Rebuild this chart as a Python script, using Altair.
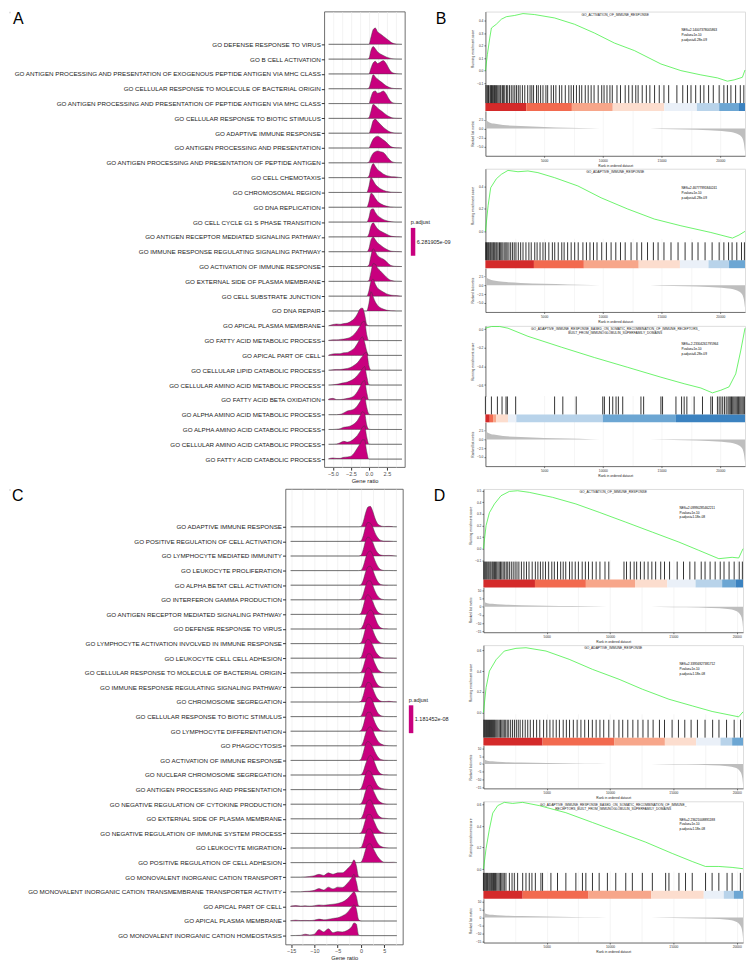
import altair as alt
import pandas as pd

FONT = "Liberation Sans"
MAG = "#C8007E"
GREEN = "#2EEE2E"
RANK_GRAY = "#BEBEBE"
GRID = "#EBEBEB"
STRIP_COLORS = ["#D42A2A", "#F26A4F", "#F7A68A", "#FCDDCE", "#EAF0F8", "#B8D3EA", "#6CA6D3", "#3B82C0"]

# ---------------- Panel A (ridge plot) ----------------
A_terms = [
    "GO DEFENSE RESPONSE TO VIRUS",
    "GO B CELL ACTIVATION",
    "GO ANTIGEN PROCESSING AND PRESENTATION OF EXOGENOUS PEPTIDE ANTIGEN VIA MHC CLASS",
    "GO CELLULAR RESPONSE TO MOLECULE OF BACTERIAL ORIGIN",
    "GO ANTIGEN PROCESSING AND PRESENTATION OF PEPTIDE ANTIGEN VIA MHC CLASS",
    "GO CELLULAR RESPONSE TO BIOTIC STIMULUS",
    "GO ADAPTIVE IMMUNE RESPONSE",
    "GO ANTIGEN PROCESSING AND PRESENTATION",
    "GO ANTIGEN PROCESSING AND PRESENTATION OF PEPTIDE ANTIGEN",
    "GO CELL CHEMOTAXIS",
    "GO CHROMOSOMAL REGION",
    "GO DNA REPLICATION",
    "GO CELL CYCLE G1 S PHASE TRANSITION",
    "GO ANTIGEN RECEPTOR MEDIATED SIGNALING PATHWAY",
    "GO IMMUNE RESPONSE REGULATING SIGNALING PATHWAY",
    "GO ACTIVATION OF IMMUNE RESPONSE",
    "GO EXTERNAL SIDE OF PLASMA MEMBRANE",
    "GO CELL SUBSTRATE JUNCTION",
    "GO DNA REPAIR",
    "GO APICAL PLASMA MEMBRANE",
    "GO FATTY ACID METABOLIC PROCESS",
    "GO APICAL PART OF CELL",
    "GO CELLULAR LIPID CATABOLIC PROCESS",
    "GO CELLULAR AMINO ACID METABOLIC PROCESS",
    "GO FATTY ACID BETA OXIDATION",
    "GO ALPHA AMINO ACID METABOLIC PROCESS",
    "GO ALPHA AMINO ACID CATABOLIC PROCESS",
    "GO CELLULAR AMINO ACID CATABOLIC PROCESS",
    "GO FATTY ACID CATABOLIC PROCESS",
]
A_padj = 6.281905e-09
A_pos_x = [-0.3, 0.0, 0.3, 0.6, 0.9, 1.2, 1.6, 2.0, 2.4, 2.8, 3.2, 3.8, 4.5]
A_pos_h = [
    [0, 0.0, 0.5, 1.0, 1.1, 0.85, 0.7, 0.55, 0.4, 0.25, 0.1, 0.02, 0],
    [0, 0.05, 0.6, 0.85, 0.7, 0.5, 0.35, 0.25, 0.15, 0.08, 0.03, 0.01, 0],
    [0, 0.0, 0.4, 0.75, 0.85, 0.7, 0.8, 0.9, 0.7, 0.35, 0.1, 0.02, 0],
    [0, 0.05, 0.5, 0.95, 0.8, 0.65, 0.5, 0.35, 0.2, 0.1, 0.04, 0.01, 0],
    [0, 0.0, 0.45, 0.8, 0.85, 0.7, 0.75, 0.85, 0.65, 0.3, 0.08, 0.01, 0],
    [0, 0.05, 0.5, 0.95, 0.85, 0.7, 0.55, 0.4, 0.25, 0.12, 0.05, 0.01, 0],
    [0, 0.0, 0.35, 0.85, 0.95, 0.8, 0.6, 0.4, 0.25, 0.12, 0.05, 0.01, 0],
    [0, 0.0, 0.3, 0.6, 0.75, 0.8, 0.7, 0.55, 0.4, 0.2, 0.06, 0.01, 0],
    [0, 0.05, 0.4, 0.65, 0.75, 0.8, 0.75, 0.7, 0.5, 0.25, 0.08, 0.01, 0],
    [0, 0.1, 0.65, 0.95, 0.75, 0.55, 0.4, 0.25, 0.15, 0.1, 0.06, 0.05, 0],
    [0, 0.4, 1.0, 0.8, 0.55, 0.4, 0.25, 0.15, 0.08, 0.04, 0.02, 0.01, 0],
    [0, 0.35, 0.95, 0.85, 0.6, 0.4, 0.25, 0.15, 0.08, 0.04, 0.02, 0.0, 0],
    [0, 0.3, 0.85, 0.9, 0.65, 0.45, 0.3, 0.18, 0.1, 0.05, 0.02, 0, 0],
    [0, 0.2, 0.75, 0.95, 0.75, 0.55, 0.4, 0.3, 0.2, 0.1, 0.04, 0.01, 0],
    [0, 0.2, 0.8, 1.0, 0.8, 0.6, 0.45, 0.3, 0.18, 0.08, 0.03, 0.01, 0],
    [0, 0.1, 0.75, 1.2, 1.0, 0.75, 0.6, 0.5, 0.35, 0.15, 0.05, 0.01, 0],
    [0, 0.05, 0.65, 1.2, 1.15, 0.9, 0.7, 0.5, 0.3, 0.13, 0.05, 0.01, 0],
    [0, 0.35, 1.0, 1.15, 0.8, 0.55, 0.4, 0.28, 0.17, 0.1, 0.06, 0.04, 0],
    [0, 0.5, 1.3, 0.95, 0.6, 0.38, 0.22, 0.13, 0.06, 0.03, 0.01, 0, 0],
]
A_neg_x = [-5.6, -5.0, -4.5, -4.0, -3.5, -3.0, -2.5, -2.0, -1.6, -1.2, -0.9, -0.6, -0.3, 0.0, 0.3]
A_neg_h = [
    [0, 0.08, 0.12, 0.1, 0.15, 0.18, 0.3, 0.5, 0.8, 1.15, 1.2, 0.8, 0.1, 0, 0],
    [0.02, 0.05, 0.05, 0.08, 0.1, 0.15, 0.25, 0.45, 0.7, 1.0, 1.25, 1.3, 0.4, 0, 0],
    [0.02, 0.1, 0.12, 0.12, 0.18, 0.2, 0.32, 0.5, 0.8, 1.1, 1.25, 0.9, 0.3, 0, 0],
    [0, 0.03, 0.05, 0.05, 0.08, 0.12, 0.2, 0.35, 0.5, 0.75, 0.95, 1.15, 1.2, 0.3, 0],
    [0, 0.02, 0.05, 0.1, 0.15, 0.2, 0.3, 0.45, 0.65, 0.9, 1.1, 1.25, 0.6, 0.02, 0],
    [0.05, 0.1, 0.02, 0.02, 0.05, 0.1, 0.15, 0.3, 0.55, 0.9, 1.2, 1.3, 0.5, 0, 0],
    [0, 0, 0, 0.02, 0.12, 0.25, 0.3, 0.4, 0.6, 0.9, 1.15, 1.2, 0.5, 0.05, 0],
    [0, 0, 0.02, 0.05, 0.15, 0.18, 0.25, 0.4, 0.6, 0.95, 1.2, 1.1, 0.3, 0.02, 0],
    [0, 0, 0.02, 0.1, 0.2, 0.15, 0.22, 0.4, 0.6, 0.9, 1.15, 1.25, 0.5, 0.02, 0],
    [0.02, 0.08, 0.05, 0.05, 0.12, 0.15, 0.2, 0.45, 0.75, 1.05, 1.3, 1.3, 0.5, 0, 0],
]
A_tail = [-5.6, 4.6]
A_xdomain = [-6.2, 5.0]
A_xvals = [-5.0, -3.75, -2.5, -1.25, 0.0, 1.25, 2.5, 3.75]

# ---------------- Panel C (ridge plot) ----------------
C_terms = [
    "GO ADAPTIVE IMMUNE RESPONSE",
    "GO POSITIVE REGULATION OF CELL ACTIVATION",
    "GO LYMPHOCYTE MEDIATED IMMUNITY",
    "GO LEUKOCYTE PROLIFERATION",
    "GO ALPHA BETAT CELL ACTIVATION",
    "GO INTERFERON GAMMA PRODUCTION",
    "GO ANTIGEN RECEPTOR MEDIATED SIGNALING PATHWAY",
    "GO DEFENSE RESPONSE TO VIRUS",
    "GO LYMPHOCYTE ACTIVATION INVOLVED IN IMMUNE RESPONSE",
    "GO LEUKOCYTE CELL CELL ADHESION",
    "GO CELLULAR RESPONSE TO MOLECULE OF BACTERIAL ORIGIN",
    "GO IMMUNE RESPONSE REGULATING SIGNALING PATHWAY",
    "GO CHROMOSOME SEGREGATION",
    "GO CELLULAR RESPONSE TO BIOTIC STIMULUS",
    "GO LYMPHOCYTE DIFFERENTIATION",
    "GO PHAGOCYTOSIS",
    "GO ACTIVATION OF IMMUNE RESPONSE",
    "GO NUCLEAR CHROMOSOME SEGREGATION",
    "GO ANTIGEN PROCESSING AND PRESENTATION",
    "GO NEGATIVE REGULATION OF CYTOKINE PRODUCTION",
    "GO EXTERNAL SIDE OF PLASMA MEMBRANE",
    "GO NEGATIVE REGULATION OF IMMUNE SYSTEM PROCESS",
    "GO LEUKOCYTE MIGRATION",
    "GO POSITIVE REGULATION OF CELL ADHESION",
    "GO MONOVALENT INORGANIC CATION TRANSPORT",
    "GO MONOVALENT INORGANIC CATION TRANSMEMBRANE TRANSPORTER ACTIVITY",
    "GO APICAL PART OF CELL",
    "GO APICAL PLASMA MEMBRANE",
    "GO MONOVALENT INORGANIC CATION HOMEOSTASIS",
]
C_padj = 1.181452e-08
C_pos_x = [-0.5, 0.0, 0.5, 1.0, 1.5, 2.0, 2.5, 3.0, 3.5, 4.0, 4.5, 5.0, 6.0, 7.0]
C_pos_h = [
    [0, 0.02, 0.35, 0.95, 1.35, 1.4, 1.1, 0.6, 0.25, 0.1, 0.04, 0.02, 0.03, 0.01],
    [0, 0.03, 0.4, 1.0, 1.3, 1.25, 1.0, 0.6, 0.3, 0.12, 0.05, 0.02, 0.02, 0.0],
    [0, 0.05, 0.45, 1.05, 1.3, 1.2, 0.95, 0.55, 0.25, 0.1, 0.05, 0.03, 0.04, 0.02],
    [0, 0.02, 0.3, 0.85, 1.25, 1.35, 1.1, 0.7, 0.35, 0.12, 0.04, 0.01, 0.01, 0],
    [0, 0.03, 0.35, 0.9, 1.25, 1.3, 1.05, 0.65, 0.3, 0.1, 0.03, 0.01, 0, 0],
    [0, 0.05, 0.4, 0.95, 1.3, 1.3, 1.0, 0.6, 0.3, 0.12, 0.04, 0.01, 0, 0],
    [0, 0.08, 0.55, 1.15, 1.35, 1.2, 0.9, 0.5, 0.22, 0.08, 0.02, 0, 0, 0],
    [0, 0.03, 0.3, 0.8, 1.15, 1.3, 1.2, 0.8, 0.4, 0.15, 0.05, 0.01, 0, 0],
    [0, 0.05, 0.45, 1.05, 1.35, 1.25, 0.95, 0.55, 0.25, 0.1, 0.03, 0.01, 0, 0],
    [0, 0.06, 0.5, 1.1, 1.3, 1.2, 0.9, 0.55, 0.28, 0.12, 0.05, 0.02, 0.02, 0.01],
    [0, 0.04, 0.4, 0.95, 1.3, 1.3, 1.05, 0.65, 0.32, 0.12, 0.04, 0.01, 0, 0],
    [0, 0.06, 0.5, 1.1, 1.35, 1.25, 0.9, 0.5, 0.22, 0.08, 0.02, 0, 0, 0],
    [0, 0.05, 0.45, 1.05, 1.35, 1.3, 0.95, 0.55, 0.25, 0.1, 0.04, 0.03, 0.05, 0.01],
    [0, 0.04, 0.4, 0.95, 1.3, 1.3, 1.05, 0.65, 0.32, 0.12, 0.04, 0.01, 0, 0],
    [0, 0.04, 0.4, 1.0, 1.3, 1.3, 1.0, 0.6, 0.28, 0.1, 0.03, 0.01, 0, 0],
    [0, 0.02, 0.3, 0.85, 1.2, 1.3, 1.1, 0.7, 0.4, 0.2, 0.1, 0.04, 0.01, 0],
    [0, 0.08, 0.55, 1.1, 1.3, 1.2, 0.95, 0.6, 0.3, 0.12, 0.04, 0.01, 0, 0],
    [0, 0.02, 0.25, 0.75, 1.15, 1.35, 1.2, 0.8, 0.4, 0.15, 0.05, 0.01, 0, 0],
    [0, 0.07, 0.5, 1.05, 1.3, 1.25, 0.95, 0.6, 0.3, 0.15, 0.08, 0.05, 0.01, 0],
    [0, 0.03, 0.35, 0.9, 1.25, 1.3, 1.05, 0.7, 0.38, 0.18, 0.08, 0.03, 0, 0],
    [0, 0.03, 0.35, 0.9, 1.25, 1.3, 1.05, 0.7, 0.35, 0.15, 0.06, 0.04, 0.01, 0],
    [0, 0.04, 0.4, 0.95, 1.3, 1.3, 1.05, 0.7, 0.35, 0.15, 0.06, 0.02, 0, 0],
    [0, 0.03, 0.4, 0.95, 1.3, 1.3, 1.05, 0.7, 0.38, 0.18, 0.08, 0.03, 0, 0],
    [0, 0.03, 0.35, 0.9, 1.25, 1.3, 1.05, 0.75, 0.45, 0.25, 0.1, 0.03, 0.02, 0.03],
]
C_neg_x = [-15.1, -14, -13, -12, -11, -10, -9, -8, -7, -6, -5, -4, -3, -2, -1.5, -1, -0.5, 0]
C_neg_h = [
    [0, 0, 0, 0.02, 0.05, 0.1, 0.2, 0.12, 0.3, 0.2, 0.3, 0.3, 0.55, 0.9, 1.2, 0.8, 0.05, 0],
    [0, 0, 0, 0.03, 0.05, 0.1, 0.22, 0.12, 0.32, 0.2, 0.32, 0.3, 0.55, 0.95, 1.2, 0.7, 0.05, 0],
    [0.02, 0.06, 0.02, 0.04, 0.02, 0.05, 0.1, 0.08, 0.12, 0.15, 0.2, 0.3, 0.5, 0.85, 1.0, 0.7, 0.05, 0],
    [0.02, 0.06, 0.03, 0.04, 0.03, 0.06, 0.13, 0.08, 0.12, 0.18, 0.22, 0.35, 0.55, 0.95, 1.1, 0.85, 0.1, 0],
    [0, 0.01, 0.02, 0.1, 0.05, 0.1, 0.42, 0.25, 0.47, 0.2, 0.28, 0.25, 0.35, 0.6, 0.87, 0.8, 0.05, 0],
]
C_tail = [-15.1, 7.7]
C_xdomain = [-16.2, 9.0]
C_xvals = [-15, -12.5, -10, -7.5, -5, -2.5, 0, 2.5, 5, 7.5]

# ---------------- Panels B and D (GSEA plots) ----------------
B_N = 22100
D_N = 20500

B_rank_x = [0, 100, 300, 700, 1500, 3000, 5000, 7000, 9000, 10500, 13000, 15000, 17000, 19000, 20500, 21300, 21800, 22000, 22100]
B_rank_y = [3.0, 2.3, 1.8, 1.4, 1.0, 0.7, 0.45, 0.25, 0.1, 0.0, 0.0, -0.1, -0.25, -0.45, -0.8, -1.3, -2.3, -4.0, -6.5]
D_rank_x = [0, 100, 300, 700, 1500, 3000, 5000, 7000, 9000, 10500, 12500, 14000, 16000, 18000, 19300, 19900, 20300, 20450, 20500]
D_rank_y = [3.5, 2.6, 2.1, 1.7, 1.3, 0.9, 0.6, 0.35, 0.15, 0.0, 0.0, -0.15, -0.4, -0.8, -1.4, -2.4, -5.0, -9.0, -13.0]

B1_title = ["GO_ACTIVATION_OF_IMMUNE_RESPONSE"]
B1_nes = ["NES=2.14007378005863", "P.value=1e-10", "p.adjust=6.28e-09"]
B1_es_rank = [0, 170, 370, 510, 930, 1360, 1780, 2490, 3200, 4190, 5890, 7580, 9280, 10980, 12680, 14940, 16640, 18340, 19750, 20600, 21170, 21880, 22100]
B1_es = [0.0, 0.13, 0.26, 0.34, 0.37, 0.41, 0.43, 0.44, 0.455, 0.447, 0.42, 0.37, 0.30, 0.22, 0.16, 0.053, 0.0, -0.034, -0.058, -0.084, -0.074, -0.053, 0.005]
B1_hits = [30, 120, 200, 260, 380, 450, 520, 600, 700, 780, 850, 950, 1050, 1150, 1250, 1320, 1450, 1550, 1650, 1800,
           1900, 2050, 2200, 2350, 2500, 2650, 2800, 2950, 3150, 3350, 3600, 3800, 3950, 4100, 4350, 4500, 4700, 4900,
           5150, 5300, 5600, 5800, 6000, 6300, 6500, 6800, 7100, 7300, 7500, 7750, 8000, 8200, 8500, 8750, 9000, 9250,
           9600, 9900, 10100, 10350, 10600, 10800, 11200, 11500, 11900, 12200, 12500, 12800, 13000, 13350, 13700,
           14000, 14400, 14800, 15200, 15600, 16300, 16800, 17200, 17500, 17900, 18300, 18600, 19000, 19400, 19900,
           20300, 20600, 20900, 21300, 21700, 22000]
B1_seg = [0, 3480, 7360, 10840, 15230, 18000, 19900, 21590, 22100]
B1_seg_col = [0, 1, 2, 3, 4, 5, 6, 7]

B2_title = ["GO_ADAPTIVE_IMMUNE_RESPONSE"]
B2_nes = ["NES=2.46777991840241", "P.value=1e-10", "p.adjust=6.28e-09"]
B2_es_rank = [0, 230, 450, 930, 1360, 1920, 2770, 3620, 4470, 5890, 7870, 9850, 12110, 14380, 16640, 19190, 21030, 21590, 22100]
B2_es = [0.0, 0.23, 0.39, 0.47, 0.51, 0.545, 0.533, 0.54, 0.525, 0.48, 0.406, 0.30, 0.20, 0.11, 0.05, -0.01, -0.06, -0.033, 0.0]
B2_hits = [20, 90, 160, 240, 310, 400, 470, 560, 650, 720, 800, 900, 980, 1080, 1200, 1300, 1400, 1500, 1650, 1750,
           1850, 2000, 2150, 2300, 2450, 2600, 2800, 3000, 3200, 3450, 3700, 3900, 4200, 4400, 4650, 4900, 5100, 5400,
           5700, 5900, 6200, 6500, 6700, 7000, 7300, 7600, 7900, 8300, 8600, 8900, 9200, 9500, 9900, 10300, 10700,
           11100, 11500, 11900, 12400, 12900, 13300, 13800, 14300, 14700, 15200, 15800, 16400, 17000, 17600, 18100,
           18700, 19300, 19900, 20300, 20700, 21000, 21400, 21800, 22050]
B2_seg = [0, 4130, 8380, 13050, 16560, 18990, 20740, 22100]
B2_seg_col = [0, 1, 2, 3, 4, 5, 6]

B3_title = ["GO_ADAPTIVE_IMMUNE_RESPONSE_BASED_ON_SOMATIC_RECOMBINATION_OF_IMMUNE_RECEPTORS_",
            "BUILT_FROM_IMMUNOGLOBULIN_SUPERFAMILY_DOMAINS"]
B3_nes = ["NES=-2.23304261795964", "P.value=1e-10", "p.adjust=6.28e-09"]
B3_es_rank = [0, 510, 1220, 1920, 3620, 6450, 9280, 12110, 14940, 16920, 18340, 19330, 20040, 20740, 21310, 21730, 22100]
B3_es = [0.01, 0.028, 0.028, 0.01, -0.077, -0.193, -0.305, -0.41, -0.516, -0.586, -0.632, -0.684, -0.656, -0.62, -0.48, -0.235, 0.01]
B3_hits = [0, 510, 1020, 1415, 1755, 1870, 2575, 5890, 6590, 7730, 9990, 10130, 10560, 10840, 11120, 11320, 11690,
           13240, 13470, 14940, 15080, 16220, 16700, 16920, 17150, 17770, 18480, 19190, 19330, 19750, 19900, 20050,
           20200, 20350, 20500, 20650, 20750, 20850, 20950, 21050, 21150, 21250, 21350, 21450, 21550, 21650, 21750,
           21850, 21950, 22050]
B3_seg = [0, 370, 650, 930, 1920, 2630, 9990, 16220, 22100]
B3_seg_col = [0, 1, 2, 3, 4, 5, 6, 7]

D1_title = ["GO_ACTIVATION_OF_IMMUNE_RESPONSE"]
D1_nes = ["NES=2.09990285462211", "P.value=1e-10", "p.adjust=1.18e-08"]
D1_es_rank = [0, 210, 470, 870, 1390, 2050, 2700, 3620, 5460, 7300, 9140, 11240, 13340, 15440, 17010, 18590, 19640, 20160, 20500]
D1_es = [0.0, 0.2, 0.31, 0.386, 0.457, 0.494, 0.5, 0.486, 0.443, 0.386, 0.314, 0.229, 0.143, 0.057, -0.014, -0.086, -0.074, -0.08, 0.0]
D1_hits = [20, 100, 180, 260, 350, 430, 520, 600, 700, 780, 870, 960, 1050, 1150, 1250, 1350, 1450, 1560, 1680, 1800,
           1920, 2050, 2200, 2350, 2500, 2650, 2800, 3000, 3200, 3400, 3600, 3850, 4100, 4300, 4500, 4700, 4900, 5150,
           5400, 5600, 5850, 6100, 6300, 6500, 6800, 7000, 7250, 7500, 7800, 8050, 8300, 8600, 8900, 9200, 9600, 9900,
           11100, 11300, 11600, 11900, 12100, 12400, 12700, 13000, 13300, 13600, 14000, 14300, 14700, 15300, 15800,
           16300, 16700, 17200, 17500, 17900, 18300, 18700, 19000, 19400, 19800, 20200, 20450]
D1_seg = [0, 4070, 8090, 11970, 14520, 16750, 18850, 19900, 20500]
D1_seg_col = [0, 1, 2, 3, 4, 5, 6, 7]

D2_title = ["GO_ADAPTIVE_IMMUNE_RESPONSE"]
D2_nes = ["NES=2.33956927381712", "P.value=1e-10", "p.adjust=1.18e-08"]
D2_es_rank = [0, 210, 470, 1000, 1650, 2570, 3360, 4940, 6770, 8610, 10710, 12550, 14650, 16490, 18060, 20160, 20500]
D2_es = [0.0, 0.24, 0.40, 0.51, 0.594, 0.62, 0.626, 0.594, 0.514, 0.417, 0.321, 0.225, 0.128, 0.064, 0.01, -0.042, 0.006]
D2_hits = [20, 90, 170, 240, 320, 400, 480, 560, 640, 720, 800, 880, 970, 1060, 1150, 1250, 1350, 1450, 1550, 1650,
           1760, 1880, 2000, 2150, 2300, 2450, 2600, 2750, 2900, 3100, 3300, 3500, 3700, 3950, 4200, 4450, 4750, 5000,
           5250, 5500, 5750, 6000, 6300, 6550, 6800, 7100, 7400, 7700, 8000, 8300, 8600, 8900, 9200, 9500, 9900, 10300,
           10700, 11000, 11400, 11800, 12200, 12600, 13000, 13400, 13900, 14300, 14900, 15400, 15900, 16400, 16900,
           17500, 18100, 18600, 19200, 19800, 20300]
D2_seg = [0, 4670, 10320, 14330, 16800, 18720, 19640, 20500]
D2_seg_col = [0, 1, 2, 3, 4, 5, 6]

D3_title = ["GO_ADAPTIVE_IMMUNE_RESPONSE_BASED_ON_SOMATIC_RECOMBINATION_OF_IMMUNE_",
            "RECEPTORS_BUILT_FROM_IMMUNOGLOBULIN_SUPERFAMILY_DOMAINS"]
D3_nes = ["NES=2.23621008891188", "P.value=1e-10", "p.adjust=1.18e-08"]
D3_es_rank = [0, 210, 470, 735, 1130, 1650, 2310, 3100, 4410, 6510, 8610, 10710, 12810, 14910, 16490, 17530, 18590, 19640, 20500]
D3_es = [0.0, 0.19, 0.37, 0.52, 0.59, 0.62, 0.61, 0.62, 0.59, 0.524, 0.433, 0.342, 0.25, 0.145, 0.07, 0.024, 0.024, 0.015, 0.003]
D3_hits = [0, 60, 130, 200, 260, 330, 420, 500, 580, 650, 730, 800, 880, 950, 1050, 1150, 1250, 1350, 1450, 1550,
           1650, 1780, 2050, 2260, 2440, 2700, 3100, 3360, 3620, 3830, 4100, 4540, 4670, 5330, 5850, 6510, 7300, 7820,
           8090, 8610, 9140, 9790, 10450, 11240, 11760, 12550, 13340, 14390, 14650, 15440, 15960, 16490, 17540, 18060,
           18590, 19240, 19640, 20290]
D3_seg = [0, 3100, 8300, 13260, 17400, 18980, 19770, 20500]
D3_seg_col = [0, 1, 2, 3, 4, 5, 6]

PANEL_LETTERS = ["A", "B", "C", "D"]


# ---------------- builders ----------------
def letter_mark(ch, dx, dy):
    return alt.Chart(pd.DataFrame({"t": [ch]})).mark_text(
        fontSize=16, font=FONT, align="left", baseline="middle", color="black"
    ).encode(text="t:N", x=alt.value(dx), y=alt.value(dy))


def ridge_frame(terms, pos_x, pos_h, neg_x, neg_h, tail, padj):
    n = len(terms)
    shapes = [(pos_x, h) for h in pos_h] + [(neg_x, h) for h in neg_h]
    rows = []
    for i, (xs, hs) in enumerate(shapes):
        base = n - 1 - i
        pts = list(zip(xs, hs))
        if pts[0][0] > tail[0]:
            pts = [(tail[0], 0.0)] + pts
        if pts[-1][0] < tail[1]:
            pts = pts + [(tail[1], 0.0)]
        for x, h in pts:
            rows.append({"row": i, "x": x, "top": base + h, "base": base, "padj": padj})
    return pd.DataFrame(rows)


def ridge_chart(terms, df, xdomain, ydomain, xvals, major, xfmt, width, height, padj, extent,
                letter, right_letter, right_dx, letter_dy):
    n = len(terms)
    by_base = [terms[n - 1 - b] for b in range(n)]
    label_expr = "[" + ",".join("'" + t + "'" for t in by_base) + "][datum.value]"
    test = f"abs(datum.value % {major}) < 0.001"
    legend = alt.Legend(
        title="p.adjust", orient="none", legendX=width + 6, legendY=210,
        values=[padj], labelExpr="replace(format(datum.value, '.6e'), 'e-', 'e-0')",
        gradientLength=28, gradientThickness=4.5, titleFontSize=5.5, labelFontSize=5.5,
        titleFont=FONT, labelFont=FONT, titleFontWeight="normal", titlePadding=2,
        labelOffset=1.5, titleColor="#222", labelColor="#222", direction="vertical", padding=0,
    )
    ridges = alt.Chart(df).mark_area(
        stroke="#3A3A3A", strokeWidth=0.45, interpolate="monotone", fillOpacity=1
    ).encode(
        x=alt.X("x:Q", scale=alt.Scale(domain=xdomain, nice=False, zero=False),
                axis=alt.Axis(title="Gene ratio", values=xvals,
                              labelExpr=f"{test} ? format(datum.value, '{xfmt}') : ''",
                              tickOpacity={"condition": {"test": test, "value": 1}, "value": 0},
                              grid=True, gridColor=GRID, gridWidth=0.6, domain=False,
                              tickSize=3, tickColor="#333", labelFontSize=5.5, titleFontSize=5.8,
                              labelColor="#4D4D4D", titleColor="#222", labelPadding=1,
                              titlePadding=1, titleFontWeight="normal", labelFont=FONT, titleFont=FONT)),
        y=alt.Y("top:Q", scale=alt.Scale(domain=ydomain, nice=False, zero=False),
                axis=alt.Axis(title=None, values=list(range(n)), labelExpr=label_expr, grid=False,
                              domain=False, tickSize=3, tickColor="#333", labelFontSize=6.3,
                              labelColor="#222", labelPadding=1, minExtent=extent, maxExtent=extent,
                              labelLimit=400, labelFont=FONT)),
        y2="base:Q",
        detail="row:N",
        color=alt.Color("padj:Q", scale=alt.Scale(domain=[padj * 0.98, padj * 1.02], range=[MAG, MAG]),
                        legend=legend),
    )
    return alt.layer(
        ridges,
        letter_mark(letter, -extent, letter_dy),
        letter_mark(right_letter, right_dx, letter_dy),
    ).properties(
        width=width, height=height,
        view=alt.ViewBackground(stroke="#4A4A4A", strokeWidth=0.8),
    )


W = 261
AX = dict(labelFont=FONT, titleFont=FONT, labelFontSize=3.3, titleFontSize=3.3, domainColor="black",
          domainWidth=0.5, tickColor="black", tickWidth=0.5, tickSize=1.5, labelColor="#333",
          titleColor="#222", labelPadding=1, titleFontWeight="normal")


def gsea(title, N, es_rank, es_val, es_dom, es_ticks, nes, hits, seg, seg_col,
         rk_x, rk_y, rk_dom, rk_ticks, rk_fmt, h_score, h_rank):
    H = h_score + 26 + h_rank
    xs = alt.Scale(domain=[0, N], nice=False, zero=False)
    grid_vals = list(range(2500, N, 2500))
    test = "datum.value % 5000 == 0"
    xaxis = alt.Axis(title="Rank in ordered dataset", values=grid_vals,
                     labelExpr=f"{test} ? format(datum.value, 'd') : ''",
                     tickOpacity={"condition": {"test": test, "value": 1}, "value": 0},
                     grid=True, gridColor=GRID, gridWidth=0.5, titlePadding=1.5, **AX)

    def X(f):
        return alt.X(f"{f}:Q", scale=xs, axis=xaxis)

    top, bot = es_dom[1], es_dom[0]
    span = top - bot
    es_scale = alt.Scale(domain=es_dom, range=[h_score, 0], nice=False, zero=False)
    es_axis = alt.Axis(title="Running enrichment score", orient="left", values=es_ticks, format=".1f",
                       grid=False, minExtent=9, maxExtent=9, titlePadding=1.5, **AX)

    def YE(f):
        return alt.Y(f"{f}:Q", scale=es_scale, axis=es_axis)

    es_df = pd.DataFrame({"rank": es_rank, "val": es_val})
    txt_df = pd.DataFrame({"rank": [0.755 * N] * 3,
                           "val": [top - f * span for f in (0.257, 0.324, 0.392)],
                           "label": nes})
    ttl_df = pd.DataFrame({"rank": [0.5 * N] * len(title),
                           "val": [top - (0.045 + 0.058 * k) * span for k in range(len(title))],
                           "label": title})
    line = alt.Chart(es_df).mark_line(color=GREEN, strokeWidth=0.7).encode(x=X("rank"), y=YE("val"))
    txt = alt.Chart(txt_df).mark_text(align="left", baseline="middle", fontSize=3.2, font=FONT,
                                      color="black").encode(x=X("rank"), y=YE("val"), text="label:N")
    ttl = alt.Chart(ttl_df).mark_text(align="center", baseline="middle", fontSize=3.3, font=FONT,
                                      color="#222").encode(x=X("rank"), y=YE("val"), text="label:N")
    es_layer = alt.layer(line, txt, ttl)

    seg_df = pd.DataFrame({"start": seg[:-1], "end": seg[1:], "col": [STRIP_COLORS[i] for i in seg_col]})
    strip = alt.Chart(seg_df).mark_rect().encode(
        x=X("start"), x2="end:Q",
        y=alt.value(h_score + 18), y2=alt.value(h_score + 26), color=alt.Color("col:N", scale=None))
    rules = alt.Chart(pd.DataFrame({"rank": hits})).mark_rule(color="black", strokeWidth=1.0, opacity=0.8).encode(
        x=X("rank"), y=alt.value(h_score), y2=alt.value(h_score + 18))

    rk_scale = alt.Scale(domain=rk_dom, range=[H, h_score + 26], nice=False, zero=False)
    rk_axis = alt.Axis(title="Ranked list metric", orient="left", values=rk_ticks, format=rk_fmt, grid=False,
                       minExtent=9, maxExtent=9, titlePadding=1.5, **AX)
    rk = alt.Chart(pd.DataFrame({"rank": rk_x, "metric": rk_y})).mark_area(
        color=RANK_GRAY, interpolate="monotone").encode(
        x=X("rank"), y=alt.Y("metric:Q", scale=rk_scale, axis=rk_axis), y2=alt.datum(0))

    return alt.layer(es_layer, strip, rules, rk).resolve_scale(y="independent").properties(width=W, height=H)


B_rk_dom = [-7.6, 4.9]
B_rk_ticks = [2.5, 0.0, -2.5, -5.0]
D_rk_dom = [-15.4, 11.6]
D_rk_ticks = [10, 5, 0, -5, -10, -15]

b1 = gsea(B1_title, B_N, B1_es_rank, B1_es, [-0.116, 0.471], [0.4, 0.3, 0.2, 0.1, 0.0, -0.1], B1_nes, B1_hits,
          B1_seg, B1_seg_col, B_rank_x, B_rank_y, B_rk_dom, B_rk_ticks, ".1f", 74, 45)
b2 = gsea(B2_title, B_N, B2_es_rank, B2_es, [-0.098, 0.56], [0.4, 0.2, 0.0], B2_nes, B2_hits,
          B2_seg, B2_seg_col, B_rank_x, B_rank_y, B_rk_dom, B_rk_ticks, ".1f", 74, 44)
b3 = gsea(B3_title, B_N, B3_es_rank, B3_es, [-0.723, 0.035], [0.0, -0.2, -0.4, -0.6], B3_nes, B3_hits,
          B3_seg, B3_seg_col, B_rank_x, B_rank_y, B_rk_dom, B_rk_ticks, ".1f", 71, 44)
d1 = gsea(D1_title, D_N, D1_es_rank, D1_es, [-0.111, 0.515], [0.5, 0.4, 0.3, 0.2, 0.1, 0.0, -0.1], D1_nes, D1_hits,
          D1_seg, D1_seg_col, D_rank_x, D_rank_y, D_rk_dom, D_rk_ticks, "d", 73, 45)
d2 = gsea(D2_title, D_N, D2_es_rank, D2_es, [-0.07, 0.651], [0.6, 0.4, 0.2, 0.0], D2_nes, D2_hits,
          D2_seg, D2_seg_col, D_rank_x, D_rank_y, D_rk_dom, D_rk_ticks, "d", 75, 43)
d3 = gsea(D3_title, D_N, D3_es_rank, D3_es, [-0.036, 0.63], [0.6, 0.4, 0.2, 0.0], D3_nes, D3_hits,
          D3_seg, D3_seg_col, D_rank_x, D_rank_y, D_rk_dom, D_rk_ticks, "d", 72, 44)

B_col = alt.vconcat(b1, b2, b3, spacing=0)
D_col = alt.vconcat(d1, d2, d3, spacing=0)

A_ext, C_ext = 313, 275
A_df = ridge_frame(A_terms, A_pos_x, A_pos_h, A_neg_x, A_neg_h, A_tail, A_padj)
C_df = ridge_frame(C_terms, C_pos_x, C_pos_h, C_neg_x, C_neg_h, C_tail, C_padj)
A_chart = ridge_chart(A_terms, A_df, A_xdomain, [-0.54, 30.21], A_xvals, 2.5, ".1f", 81, 458, A_padj, A_ext,
                      PANEL_LETTERS[0], PANEL_LETTERS[1], 112, 8)
C_chart = ridge_chart(C_terms, C_df, C_xdomain, [-0.61, 30.59], C_xvals, 5, "d", 118, 458, C_padj, C_ext,
                      PANEL_LETTERS[2], PANEL_LETTERS[3], 149, 7)


def spacer():
    return alt.Chart(pd.DataFrame({"s": [0]})).mark_rect(opacity=0).encode(
        x=alt.value(0), x2=alt.value(1), y=alt.value(0), y2=alt.value(1)).properties(width=1, height=1)


def indep(c):
    return c.resolve_scale(color="independent").resolve_legend(color="independent")


row1 = indep(alt.hconcat(indep(alt.hconcat(spacer(), A_chart, spacing=0)), B_col, spacing=19))
row2 = indep(alt.hconcat(indep(alt.hconcat(spacer(), C_chart, spacing=0)), D_col, spacing=19))

chart = indep(alt.vconcat(row1, row2, spacing=3)).properties(
    padding={"left": 0, "top": 0, "right": 0, "bottom": 0}
).configure_view(stroke=None).configure(font=FONT, background="white")

chart.save("out.html", embed_options={"renderer": "svg", "actions": False})
